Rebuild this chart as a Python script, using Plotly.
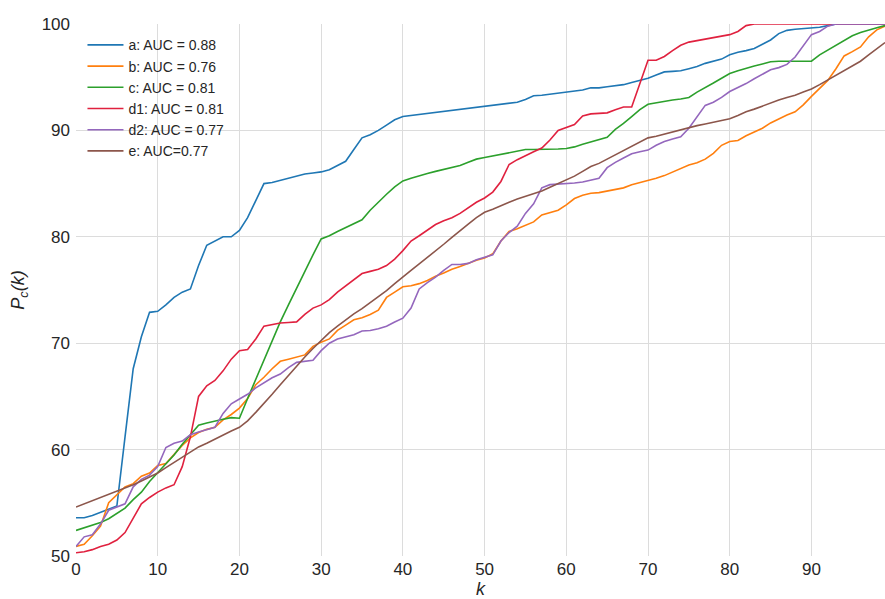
import plotly.graph_objects as go

k = list(range(100))

a = [53.6, 53.6, 53.8, 54.1, 54.4, 54.7, 61.2, 67.6, 70.6, 72.9,
     73.0, 73.6, 74.3, 74.8, 75.1, 77.3, 79.2, 79.6, 80.0, 80.0,
     80.6, 81.8, 83.4, 85.0, 85.1, 85.3, 85.5, 85.7, 85.9, 86.0,
     86.1, 86.3, 86.7, 87.1, 88.2, 89.3, 89.6, 90.0, 90.5, 91.0,
     91.3, 91.4, 91.45, 91.55, 91.7, 91.75, 91.85, 92.0, 92.1, 92.2,
     92.3, 92.4, 92.5, 92.55, 92.65, 92.9, 93.25, 93.3, 93.4, 93.5,
     93.6, 93.7, 93.8, 94.0, 94.0, 94.1, 94.2, 94.3, 94.5, 94.7,
     94.9, 95.2, 95.5, 95.55, 95.6, 95.8, 96.0, 96.3, 96.5, 96.7,
     97.1, 97.35, 97.5, 97.7, 98.1, 98.5, 99.1, 99.4, 99.5, 99.55,
     99.6, 99.7, 99.85, 100, 100, 100, 100, 100, 100, 100]

b = [50.9, 51.1, 51.9, 52.8, 55.0, 55.8, 56.5, 56.8, 57.5, 57.8,
     58.5, 58.7, 59.6, 60.4, 61.1, 61.6, 61.9, 62.1, 62.8, 63.3,
     63.9, 64.8, 66.1, 66.8, 67.6, 68.3, 68.5, 68.7, 68.9, 69.7,
     70.1, 70.4, 71.2, 71.7, 72.2, 72.4, 72.7, 73.1, 74.3, 74.8,
     75.3, 75.4, 75.6, 75.9, 76.3, 76.6, 76.95, 77.2, 77.5, 77.8,
     78.0, 78.4, 79.6, 80.5, 80.75, 81.1, 81.4, 82.05, 82.3, 82.5,
     83.0, 83.6, 83.9, 84.1, 84.15, 84.3, 84.45, 84.6, 84.9, 85.1,
     85.25, 85.5, 85.75, 86.1, 86.4, 86.75, 86.95, 87.3, 87.85, 88.6,
     88.95, 89.05, 89.5, 89.85, 90.2, 90.7, 91.1, 91.45, 91.75, 92.4,
     93.2, 94.0, 94.7, 95.8, 97.0, 97.4, 97.85, 98.8, 99.45, 99.8]

c = [52.4, 52.65, 52.9, 53.15, 53.5, 54.0, 54.5, 55.3, 56.0, 57.0,
     57.8, 58.7, 59.5, 60.5, 61.4, 62.3, 62.5, 62.7, 62.85, 63.0,
     62.95, 64.8, 66.6, 68.4, 70.2, 72.0, 73.6, 75.2, 76.7, 78.3,
     79.8, 80.1, 80.5, 80.85, 81.2, 81.6, 82.5, 83.3, 84.0, 84.7,
     85.25, 85.5, 85.75, 85.95, 86.15, 86.35, 86.5, 86.7, 87.0, 87.3,
     87.45, 87.6, 87.75, 87.9, 88.1, 88.2, 88.2, 88.2, 88.2, 88.25,
     88.3, 88.45, 88.7, 88.9, 89.1, 89.35, 90.1, 90.65, 91.3, 91.95,
     92.45, 92.6, 92.75, 92.85, 92.95, 93.1, 93.6, 94.0, 94.45, 94.9,
     95.35, 95.6, 95.85, 96.05, 96.25, 96.45, 96.5, 96.5, 96.5, 96.5,
     96.5, 97.1, 97.55, 98.0, 98.45, 98.9, 99.2, 99.45, 99.65, 99.85]

d1 = [50.3, 50.4, 50.6, 50.9, 51.1, 51.5, 52.2, 53.6, 54.9, 55.5,
      56.0, 56.4, 56.7, 58.4, 61.2, 65.0, 66.0, 66.5, 67.4, 68.5,
      69.3, 69.4, 70.4, 71.6, 71.75, 71.9, 71.95, 72.0, 72.7, 73.3,
      73.6, 74.1, 74.8, 75.4, 75.95, 76.55, 76.75, 76.95, 77.3, 77.9,
      78.7, 79.6, 80.1, 80.6, 81.15, 81.5, 81.8, 82.2, 82.7, 83.25,
      83.65, 84.2, 85.2, 86.8, 87.25, 87.65, 88.0, 88.35, 89.1, 90.0,
      90.25, 90.55, 91.35, 91.55, 91.6, 91.65, 91.95, 92.2, 92.2, 94.4,
      96.6, 96.6, 96.95, 97.5, 98.0, 98.3, 98.45, 98.55, 98.7, 98.9,
      99.0, 99.3, 99.85, 100, 100, 100, 100, 100, 100, 100,
      100, 100, 100, 100, 100, 100, 100, 100, 100, 100]

d2 = [50.9, 51.8, 52.0, 53.0, 54.3, 54.6, 54.9, 56.5, 57.2, 57.6,
      58.4, 60.2, 60.6, 60.8, 61.4, 61.65, 61.85, 62.1, 63.4, 64.3,
      64.75, 65.2, 65.8, 66.3, 66.75, 67.1, 67.7, 68.2, 68.3, 68.4,
      69.3, 70.0, 70.4, 70.6, 70.8, 71.15, 71.2, 71.35, 71.6, 72.0,
      72.35, 73.3, 75.1, 75.7, 76.2, 76.85, 77.4, 77.4, 77.5, 77.85,
      78.05, 78.3, 79.6, 80.4, 81.0, 82.2, 83.1, 84.6, 84.9, 84.95,
      84.95, 85.05, 85.15, 85.3, 85.5, 86.5, 87.0, 87.4, 87.8, 88.0,
      88.15, 88.6, 88.95, 89.2, 89.4, 90.2, 91.3, 92.35, 92.65, 93.1,
      93.65, 94.0, 94.4, 94.85, 95.3, 95.7, 95.9, 96.2, 96.9, 97.9,
      99.0, 99.3, 99.8, 100, 100, 100, 100, 100, 100, 100]

e = [54.6, 54.9, 55.15, 55.45, 55.75, 56.05, 56.4, 56.7, 57.05, 57.4,
     57.8, 58.3, 58.8, 59.3, 59.8, 60.25, 60.6, 61.0, 61.4, 61.75,
     62.1, 62.7, 63.5, 64.3, 65.2, 66.1, 67.0, 67.85, 68.7, 69.5,
     70.3, 71.0, 71.6, 72.2, 72.75, 73.25, 73.8, 74.35, 74.95, 75.6,
     76.25, 76.85, 77.45, 78.05, 78.65, 79.3, 79.95, 80.6, 81.2, 81.8,
     82.3, 82.6, 82.95, 83.25, 83.55, 83.8, 84.05, 84.3, 84.65, 85.0,
     85.3, 85.7, 86.15, 86.6, 86.9, 87.3, 87.7, 88.1, 88.45, 88.9,
     89.3, 89.45, 89.65, 89.85, 90.05, 90.3, 90.45, 90.6, 90.75, 90.95,
     91.1, 91.4, 91.75, 92.0, 92.3, 92.6, 92.85, 93.1, 93.3, 93.6,
     93.9, 94.3, 94.75, 95.2, 95.6, 96.05, 96.5, 97.1, 97.7, 98.25]

names = ["a: AUC = 0.88", "b: AUC = 0.76", "c: AUC = 0.81",
         "d1: AUC = 0.81", "d2: AUC = 0.77", "e: AUC=0.77"]
series = [a, b, c, d1, d2, e]
colors = ["#1f77b4", "#ff7f0e", "#2ca02c", "#e0213f", "#9467bd", "#8c564b"]

x_ticks = [0, 10, 20, 30, 40, 50, 60, 70, 80, 90]
y_ticks = [50, 60, 70, 80, 90, 100]

FONT = "Arial, Liberation Sans, sans-serif"

fig = go.Figure()
for name, vals, col in zip(names, series, colors):
    fig.add_trace(go.Scatter(x=k, y=vals, mode="lines", name=name,
                             line=dict(color=col, width=1.6)))

fig.update_layout(
    width=885, height=599,
    margin=dict(l=76, r=0, t=24, b=43),
    paper_bgcolor="white", plot_bgcolor="white",
    font=dict(family=FONT, color="#262626"),
    showlegend=True,
    legend=dict(x=0.008, y=0.99, xanchor="left", yanchor="top",
                bgcolor="rgba(255,255,255,0)", font=dict(size=14, color="#262626"),
                tracegroupgap=0, itemwidth=36),
)
fig.update_xaxes(range=[0, 99], tickvals=x_ticks, showgrid=True, automargin=False,
                 gridcolor="#dcdcdc", gridwidth=1, zeroline=False,
                 showline=False, tickfont=dict(size=17, color="#262626"),
                 ticklabelstandoff=1,
                 title=dict(text="<i>k</i>", font=dict(size=18), standoff=0))
fig.update_yaxes(range=[50, 100], tickvals=y_ticks, showgrid=True, automargin=False,
                 gridcolor="#dcdcdc", gridwidth=1, zeroline=False,
                 showline=False, tickfont=dict(size=17, color="#262626"),
                 ticklabelstandoff=5,
                 title=dict(text="<i>P<sub>c</sub>(k)</i>", font=dict(size=18), standoff=12))

fig.write_html("out.html", config={"displayModeBar": False},
               post_script="document.body.style.margin='0';document.body.style.overflow='hidden';")
